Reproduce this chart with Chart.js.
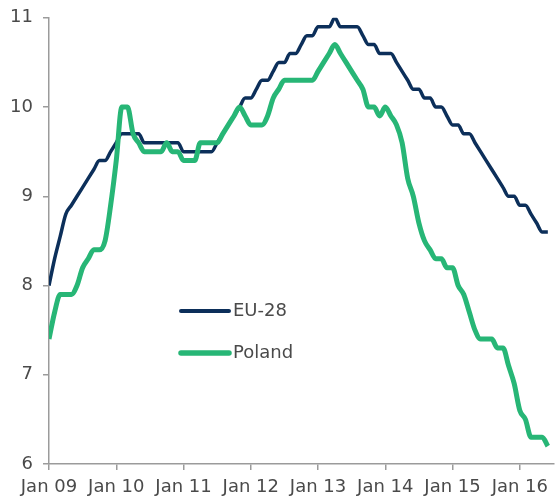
<!DOCTYPE html>
<html>
<head>
<meta charset="utf-8">
<script src="https://cdn.jsdelivr.net/npm/chart.js@4/dist/chart.umd.min.js"></script>
<style>
  html, body { margin: 0; padding: 0; background: #fff; }
  #outer { width: 555px; height: 499px; overflow: hidden; }
  #wrap { width: 555px; height: 502px; margin-top: -3px; }
</style>
</head>
<body>
<div id="outer"><div id="wrap"><canvas id="chart"></canvas></div></div>
<script>
// monthly, Jan 09 .. Jun 16
const seriesNames = ['EU-28', 'Poland'];
const tickLabels = ['Jan 09', 'Jan 10', 'Jan 11', 'Jan 12', 'Jan 13', 'Jan 14', 'Jan 15', 'Jan 16'];

const eu28 = [
  8.0, 8.3, 8.55, 8.8, 8.9, 9.0, 9.1, 9.2, 9.3, 9.4, 9.4, 9.5,
  9.6, 9.7, 9.7, 9.7, 9.7, 9.6, 9.6, 9.6, 9.6, 9.6, 9.6, 9.6,
  9.5, 9.5, 9.5, 9.5, 9.5, 9.5, 9.6, 9.7, 9.8, 9.9, 10.0, 10.1,
  10.1, 10.2, 10.3, 10.3, 10.4, 10.5, 10.5, 10.6, 10.6, 10.7, 10.8, 10.8,
  10.9, 10.9, 10.9, 11.0, 10.9, 10.9, 10.9, 10.9, 10.8, 10.7, 10.7, 10.6,
  10.6, 10.6, 10.5, 10.4, 10.3, 10.2, 10.2, 10.1, 10.1, 10.0, 10.0, 9.9,
  9.8, 9.8, 9.7, 9.7, 9.6, 9.5, 9.4, 9.3, 9.2, 9.1, 9.0, 9.0,
  8.9, 8.9, 8.8, 8.7, 8.6, 8.6
];

const poland = [
  7.4, 7.7, 7.9, 7.9, 7.9, 8.0, 8.2, 8.3, 8.4, 8.4, 8.5, 8.9,
  9.4, 10.0, 10.0, 9.7, 9.6, 9.5, 9.5, 9.5, 9.5, 9.6, 9.5, 9.5,
  9.4, 9.4, 9.4, 9.6, 9.6, 9.6, 9.6, 9.7, 9.8, 9.9, 10.0, 9.9,
  9.8, 9.8, 9.8, 9.9, 10.1, 10.2, 10.3, 10.3, 10.3, 10.3, 10.3, 10.3,
  10.4, 10.5, 10.6, 10.7, 10.6, 10.5, 10.4, 10.3, 10.2, 10.0, 10.0, 9.9,
  10.0, 9.9, 9.8, 9.6, 9.2, 9.0, 8.7, 8.5, 8.4, 8.3, 8.3, 8.2,
  8.2, 8.0, 7.9, 7.7, 7.5, 7.4, 7.4, 7.4, 7.3, 7.3, 7.1, 6.9,
  6.6, 6.5, 6.3, 6.3, 6.3, 6.2
];

const navy = '#0c2f5a';
const green = '#27b676';
const axisGrey = '#9b9b9b';
const textGrey = '#4a4a4a';
const font = { family: 'DejaVu Sans', size: 18 };

function toPoints(arr) {
  return arr.map((v, i) => ({ x: i, y: v }));
}

// legend sits inside the plot, lower left (canvas is shifted up 3px)
const innerLegend = {
  id: 'innerLegend',
  afterDatasetsDraw(chart) {
    const ctx = chart.ctx;
    const rows = [
      { ds: chart.data.datasets[1], y: 314, w: 4 },
      { ds: chart.data.datasets[0], y: 356, w: 5.5 }
    ];
    ctx.save();
    rows.forEach(r => {
      ctx.strokeStyle = r.ds.borderColor;
      ctx.lineWidth = r.w;
      ctx.lineCap = 'round';
      ctx.beginPath();
      ctx.moveTo(181, r.y);
      ctx.lineTo(229, r.y);
      ctx.stroke();
      ctx.fillStyle = textGrey;
      ctx.font = font.size + 'px "' + font.family + '"';
      ctx.textBaseline = 'middle';
      ctx.fillText(r.ds.label, 233, r.y);
    });
    ctx.restore();
  }
};

new Chart(document.getElementById('chart'), {
  type: 'line',
  data: {
    datasets: [
      {
        label: seriesNames[1],
        data: toPoints(poland),
        borderColor: green,
        borderWidth: 5,
        pointRadius: 0,
        cubicInterpolationMode: 'monotone',
        order: 0
      },
      {
        label: seriesNames[0],
        data: toPoints(eu28),
        borderColor: navy,
        borderWidth: 3.5,
        pointRadius: 0,
        cubicInterpolationMode: 'monotone',
        order: 1
      }
    ]
  },
  options: {
    responsive: true,
    maintainAspectRatio: false,
    animation: false,
    layout: { padding: { top: 13, right: 0, left: 0, bottom: 0 } },
    plugins: {
      legend: { display: false },
      tooltip: { enabled: false }
    },
    scales: {
      x: {
        type: 'linear',
        min: 0,
        max: 90,
        afterFit(scale) { scale.height = 35; },
        border: { color: axisGrey, width: 1.5 },
        grid: { drawOnChartArea: false, tickLength: 6, color: axisGrey, lineWidth: 1.5 },
        ticks: {
          stepSize: 12,
          includeBounds: false,
          autoSkip: false,
          maxRotation: 0,
          padding: 7,
          color: textGrey,
          font: font,
          callback: v => tickLabels[v / 12]
        }
      },
      y: {
        min: 6,
        max: 11,
        afterFit(scale) { scale.width = 49; },
        border: { color: axisGrey, width: 1.5 },
        grid: { drawOnChartArea: false, tickLength: 6, color: axisGrey, lineWidth: 1.5 },
        ticks: {
          stepSize: 1,
          padding: 10,
          color: textGrey,
          font: font
        }
      }
    }
  },
  plugins: [innerLegend]
});
</script>
</body>
</html>
